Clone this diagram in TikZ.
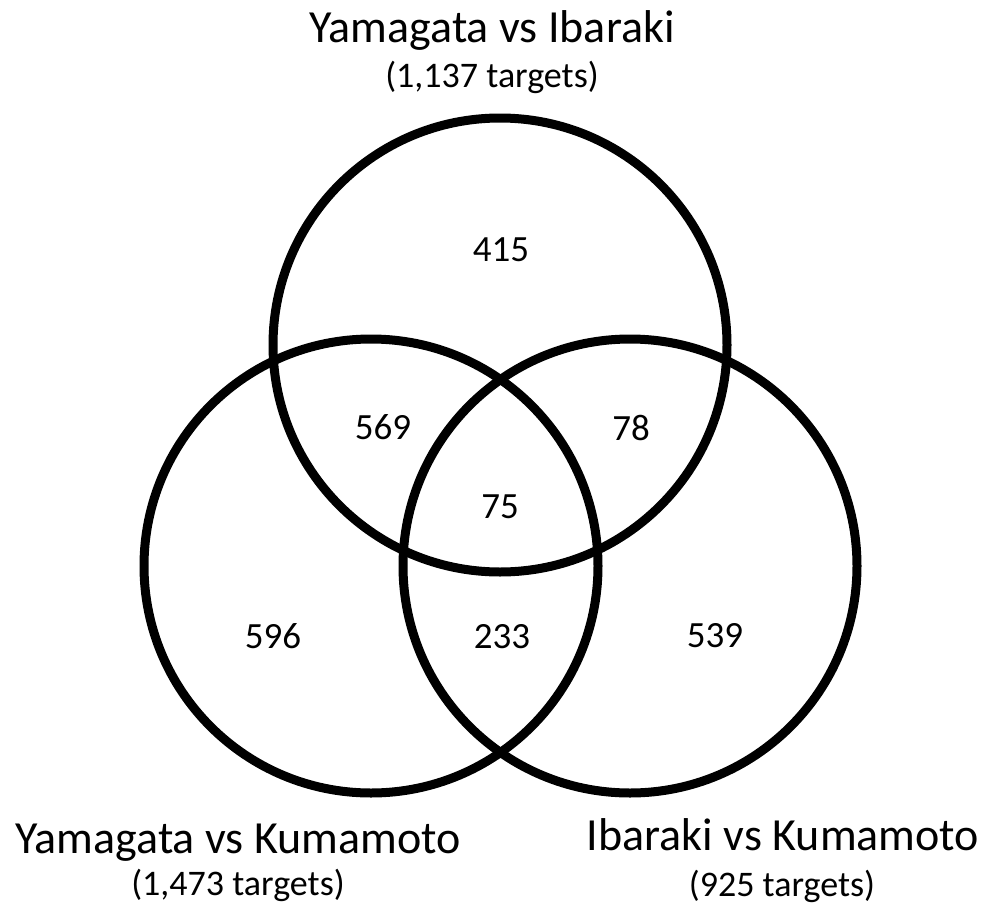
\documentclass[tikz,border=0pt]{standalone}
\usepackage{fontspec}
\setmainfont{Carlito}
\usetikzlibrary{positioning}

\begin{document}
\begin{tikzpicture}[
  x=1pt, y=-1pt,
  ring/.style={draw, circle, line width=9pt, minimum size=454pt, inner sep=0pt},
  count/.style={font=\fontsize{37}{42}\selectfont},
  heading/.style={font=\fontsize{46}{52}\selectfont, anchor=base},
  tally/.style={font=\fontsize{36}{40}\selectfont, anchor=base},
]
  \useasboundingbox (0,0) rectangle (993,905);
  % the three sets
  \node[ring] (yi) at (500,345) {};
  \node[ring] (yk) at (371,566) {};
  \node[ring] (ik) at (630,566) {};
  % headings
  \node[heading] (yi-name) at (492,42) {Yamagata vs Ibaraki};
  \node[tally] (yi-size) at (492,87) {(1,137 targets)};
  \node[heading] (yk-name) at (238,853) {Yamagata vs Kumamoto};
  \node[tally] (yk-size) at (238,895) {(1,473 targets)};
  \node[heading] (ik-name) at (783,850) {Ibaraki vs Kumamoto};
  \node[tally] (ik-size) at (782,896) {(925 targets)};
  % region counts
  \node[count] (n-yi) at (501,250) {415};
  \node[count] (n-yi-yk) at (383,427) {569};
  \node[count] (n-yi-ik) at (631,428) {78};
  \node[count] (n-all) at (500,507) {75};
  \node[count] (n-yk) at (273,636) {596};
  \node[count] (n-yk-ik) at (502,637) {233};
  \node[count] (n-ik) at (715,636) {539};
\end{tikzpicture}
\end{document}
